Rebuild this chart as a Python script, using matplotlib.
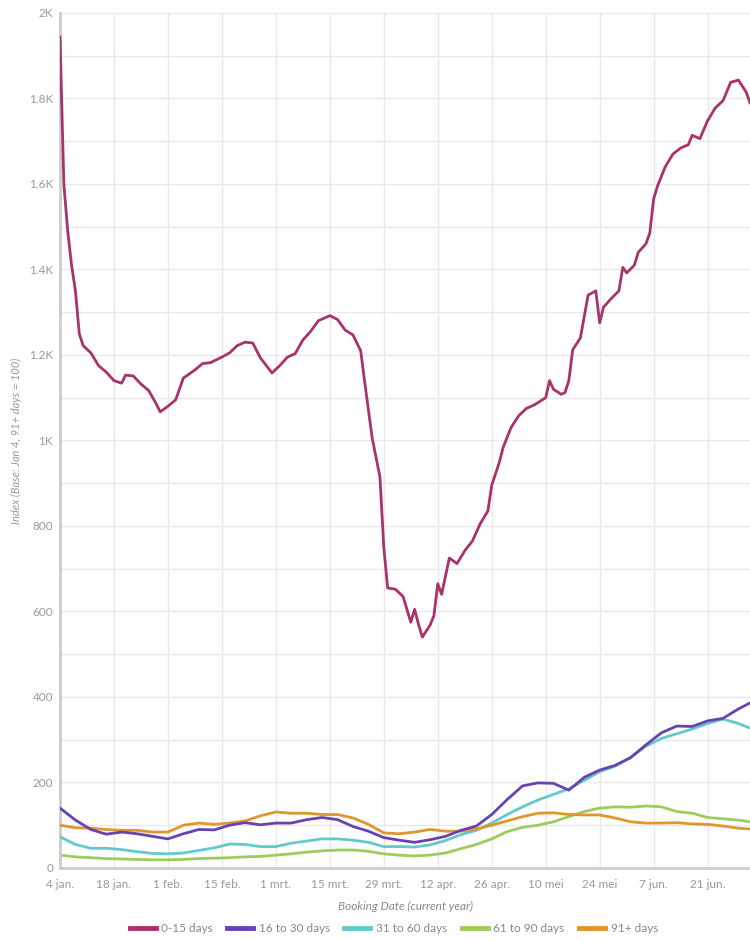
import numpy as np
import matplotlib
matplotlib.use("Agg")
import matplotlib.pyplot as plt
from matplotlib.ticker import MultipleLocator

plt.rcParams['font.family'] = ['Lato', 'DejaVu Sans']

# ---- data (days since 4 jan, index values) ----
# 0-15 days
days_015 = [0, 1, 2, 3, 4, 5, 6, 8, 10, 12, 14, 16, 17, 19, 21, 23, 25, 26, 28, 30,
            32, 35, 37, 39, 42, 44, 46, 48, 50, 52, 55, 57, 59, 61, 63, 65, 67, 70, 72, 74,
            76, 78, 79, 81, 83, 84, 85, 87, 89, 91, 92, 93, 94, 96, 97, 98, 99, 101, 103, 105,
            107, 109, 111, 112, 114, 115, 117, 119, 121, 123, 126, 127, 128, 130, 131, 132, 133, 135, 137, 139,
            140, 141, 143, 145, 146, 147, 149, 150, 152, 153, 154, 155, 157, 159, 161, 163, 164, 166, 168, 170,
            172, 174, 176, 178, 179]
vals_015 = [1944, 1600, 1490, 1410, 1350, 1250, 1222, 1205, 1175, 1160, 1140, 1134, 1153, 1151, 1132, 1117, 1085, 1067, 1080, 1095,
            1146, 1165, 1180, 1182, 1195, 1205, 1222, 1230, 1228, 1193, 1158, 1175, 1195, 1203, 1235, 1255, 1280, 1292, 1283, 1258,
            1247, 1210, 1140, 1005, 915, 750, 655, 652, 635, 575, 605, 570, 540, 568, 590, 665, 640, 725, 712, 742,
            765, 805, 835, 895, 950, 985, 1030, 1058, 1075, 1083, 1100, 1140, 1120, 1108, 1112, 1140, 1212, 1240, 1340, 1350,
            1275, 1312, 1332, 1350, 1405, 1392, 1410, 1440, 1460, 1485, 1565, 1595, 1640, 1670, 1684, 1692, 1714, 1706, 1748, 1778,
            1795, 1838, 1843, 1815, 1790]

# other segments share one day grid
days = [0, 4, 8, 12, 16, 20, 24, 28, 32, 36, 40, 44, 48, 52, 56, 60, 64, 68, 72, 76,
        80, 84, 88, 92, 96, 100, 104, 108, 112, 116, 120, 124, 128, 132, 136, 140, 144, 148, 152, 156,
        160, 164, 168, 172, 176, 179]
vals_1630 = [140, 112, 90, 79, 84, 80, 74, 68, 80, 90, 89, 100, 106, 101, 105, 105, 113, 118, 113, 97,
             86, 71, 65, 60, 66, 74, 88, 98, 125, 160, 192, 199, 198, 182, 212, 229, 240, 258, 288, 316,
             332, 331, 344, 350, 372, 386]
vals_3160 = [73, 55, 46, 46, 43, 38, 34, 33, 35, 41, 47, 56, 55, 50, 50, 58, 63, 68, 68, 65,
             60, 50, 50, 49, 54, 64, 78, 88, 105, 125, 143, 159, 172, 185, 205, 225, 238, 258, 285, 303,
             314, 325, 338, 348, 338, 327]
vals_6190 = [30, 26, 24, 22, 21, 20, 19, 19, 20, 22, 23, 24, 26, 27, 30, 33, 37, 40, 42, 42,
             39, 33, 30, 28, 30, 35, 45, 55, 68, 85, 95, 100, 108, 120, 132, 140, 143, 142, 145, 143,
             132, 128, 118, 115, 112, 108]
vals_91 = [100, 94, 93, 90, 88, 88, 84, 84, 100, 105, 102, 105, 110, 122, 131, 128, 128, 125, 125, 117,
           102, 82, 80, 84, 90, 86, 86, 91, 100, 110, 120, 128, 129, 125, 124, 124, 117, 108, 105, 105,
           106, 103, 102, 98, 93, 91]

tick_days = [0, 14, 28, 42, 56, 70, 84, 98, 112, 126, 140, 154, 168]
tick_labels = ['4 jan.', '18 jan.', '1 feb.', '15 feb.', '1 mrt.', '15 mrt.', '29 mrt.',
               '12 apr.', '26 apr.', '10 mei', '24 mei', '7 jun.', '21 jun.']
y_ticks = [0, 200, 400, 600, 800, 1000, 1200, 1400, 1600, 1800, 2000]
y_labels = ['0', '200', '400', '600', '800', '1K', '1.2K', '1.4K', '1.6K', '1.8K', '2K']

fig = plt.figure(figsize=(7.5, 9.42), dpi=100)
ax = fig.add_axes([0.08, 0.0786, 0.92, 0.9076])

ax.plot(days_015, vals_015, color='#a8336b', lw=2.0, label='0-15 days', zorder=5)
ax.plot(days, vals_1630, color='#6a42b0', lw=2.0, label='16 to 30 days', zorder=4)
ax.plot(days, vals_3160, color='#62c9cc', lw=2.0, label='31 to 60 days', zorder=3)
ax.plot(days, vals_6190, color='#9ccd5c', lw=2.0, label='61 to 90 days', zorder=2)
ax.plot(days, vals_91, color='#e0962e', lw=2.0, label='91+ days', zorder=3)

ax.set_xlim(0, 179)
ax.set_ylim(0, 2000)
ax.set_xticks(tick_days)
ax.set_xticklabels(tick_labels)
ax.set_yticks(y_ticks)
ax.set_yticklabels(y_labels)
ax.yaxis.set_minor_locator(MultipleLocator(100))

ax.grid(True, which='both', color='#e8e8e8', lw=1.0)
ax.set_axisbelow(True)
for s in ['top', 'right']:
    ax.spines[s].set_visible(False)
ax.spines['left'].set_color('#cccccc')
ax.spines['left'].set_linewidth(2.0)
ax.spines['bottom'].set_color('#cccccc')
ax.spines['bottom'].set_linewidth(2.0)
ax.tick_params(which='both', length=0, colors='#999999', labelsize=8.5)
ax.tick_params(axis='x', pad=8)
ax.tick_params(axis='y', pad=5)

ax.set_xlabel('Booking Date (current year)', fontsize=8.5, color='#888888',
              style='italic', labelpad=8)
ax.set_ylabel('Index (Base: Jan 4, 91+ days = 100)', fontsize=8, color='#999999',
              style='italic', labelpad=5)

fig.legend(loc='lower center', bbox_to_anchor=(0.525, -0.003), ncol=5, frameon=False,
           fontsize=8.5, labelcolor='#888888', handlelength=2.2, columnspacing=1.2,
           handletextpad=0.5)
for h in fig.legends[0].get_lines():
    h.set_linewidth(3.5)

fig.savefig('out.png', dpi=100)
